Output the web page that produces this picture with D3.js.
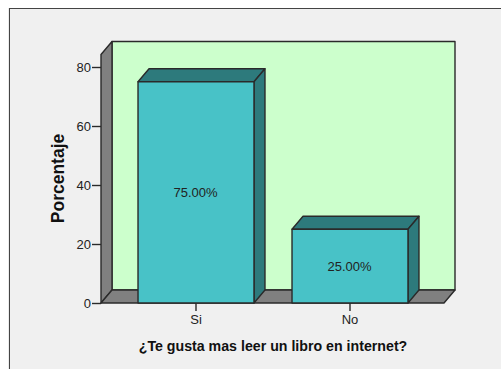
<!DOCTYPE html>
<html>
<head>
<meta charset="utf-8">
<script src="https://cdnjs.cloudflare.com/ajax/libs/d3/7.8.5/d3.min.js"></script>
<style>
html,body{margin:0;padding:0;background:#fff;overflow:hidden}
svg{display:block}
text{font-family:"Liberation Sans",Arial,sans-serif;fill:#222}
</style>
</head>
<body>
<script>
const categories = ["Si", "No"];
const percentages = [75, 25];
const valueLabels = ["75.00%", "25.00%"];
const yTicks = [0, 20, 40, 60, 80];
const yTitle = "Porcentaje";
const xTitle = "¿Te gusta mas leer un libro en internet?";

const W = 501, H = 369;
const depthX = 11, depthY = 13;
const floorY = 303, perUnit = 2.95;
const plotL = 101, plotR = 444;
const ink = "#2a2a2a";

const svg = d3.select("body").append("svg").attr("width", W).attr("height", H);

svg.append("rect").attr("width", W).attr("height", H).attr("fill", "#fff");
svg.append("path").attr("d", `M9.5,${H}V8.5H${W}`).attr("fill", "#f0f0f0").attr("stroke", "#444").attr("stroke-width", 1.2);
svg.append("rect").attr("x", 10).attr("y", 9).attr("width", W - 10).attr("height", H - 9).attr("fill", "#f0f0f0");

const y = d3.scaleLinear().domain([0, 80]).range([floorY, floorY - 80 * perUnit]);
const x = d3.scaleBand().domain(categories).range([119, 427]).paddingInner(0.247).paddingOuter(0.1235);

const wallTop = 54.5;
const line = d3.line();
const poly = (pts, fill) => svg.append("path")
  .attr("d", line(pts) + "Z").attr("fill", fill).attr("stroke", ink)
  .attr("stroke-width", 1.4).attr("stroke-linejoin", "round");

// back wall, left wall, floor
poly([[plotL + depthX, wallTop - depthY], [plotR + depthX, wallTop - depthY], [plotR + depthX, floorY - depthY], [plotL + depthX, floorY - depthY]], "#ccffcc");
poly([[plotL, wallTop], [plotL + depthX, wallTop - depthY], [plotL + depthX, floorY - depthY], [plotL, floorY]], "#808080");
poly([[plotL, floorY], [plotL + depthX, floorY - depthY], [plotR + depthX, floorY - depthY], [plotR, floorY]], "#808080");

// bars
categories.forEach((c, i) => {
  const x0 = x(c), x1 = x0 + x.bandwidth(), yt = y(percentages[i]), yb = y(0);
  poly([[x0, yt], [x0 + depthX, yt - depthY], [x1 + depthX, yt - depthY], [x1, yt]], "#2d7a7c");
  poly([[x1, yt], [x1 + depthX, yt - depthY], [x1 + depthX, yb - depthY], [x1, yb]], "#2d7a7c");
  poly([[x0, yt], [x1, yt], [x1, yb], [x0, yb]], "#48c2c7");
  svg.append("text").attr("x", (x0 + x1) / 2 - 0.5).attr("y", (yt + yb) / 2 + 5)
    .attr("text-anchor", "middle").attr("font-size", 13).text(valueLabels[i]);
});

// y axis
const yAxis = d3.axisLeft(y).tickValues(yTicks).tickSize(9).tickPadding(1);
const gy = svg.append("g").attr("transform", `translate(${plotL},0)`).call(yAxis);
gy.select(".domain").remove();
gy.selectAll("line").attr("stroke", ink).attr("stroke-width", 1.4);
gy.selectAll("text").attr("font-size", 13).style("font-family", '"Liberation Sans",Arial,sans-serif').attr("fill", "#222");

// x axis
const xAxis = d3.axisBottom(x).tickSize(8).tickPadding(4);
const gx = svg.append("g").attr("transform", `translate(0,${floorY})`).call(xAxis);
gx.select(".domain").remove();
gx.selectAll("line").attr("stroke", ink).attr("stroke-width", 1.4);
gx.selectAll("text").attr("font-size", 13).style("font-family", '"Liberation Sans",Arial,sans-serif').attr("fill", "#222");

// titles
svg.append("text").attr("transform", "translate(64,178.5) rotate(-90)")
  .attr("text-anchor", "middle").attr("font-size", 17.5).attr("font-weight", "bold").style("fill", "#111").text(yTitle);
svg.append("text").attr("x", 273).attr("y", 351)
  .attr("text-anchor", "middle").attr("font-size", 14.2).attr("font-weight", "bold").style("fill", "#111").text(xTitle);
</script>
</body>
</html>
